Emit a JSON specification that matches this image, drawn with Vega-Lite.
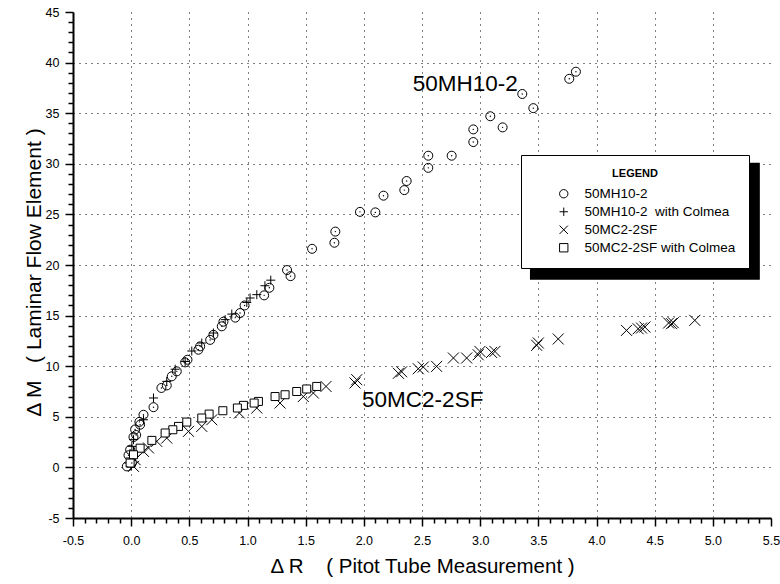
{
  "$schema": "https://vega.github.io/schema/vega-lite/v6.json",
  "width": 698,
  "height": 506,
  "autosize": {"type": "none"},
  "padding": {"left": 73, "top": 12, "right": 9, "bottom": 66},
  "background": "white",
  "config": {
    "view": {"stroke": null},
    "font": "Liberation Sans",
    "axis": {"domainColor": "black", "tickColor": "black", "labelColor": "black", "titleColor": "black", "titleFontWeight": "normal"},
    "legend": {
      "orient": "none", "legendX": 448, "legendY": 143,
      "titleFontWeight": "bold", "titleFontSize": 11, "titleAnchor": "middle", "titlePadding": 8, "titleColor": "black", "titleFont": "Liberation Sans",
      "labelFontSize": 13.5, "labelColor": "black", "labelFont": "Liberation Sans",
      "fillColor": "white", "strokeColor": "black", "strokeWidth": 1,
      "padding": 13, "symbolOffset": 23, "labelOffset": 14, "rowPadding": 3,
      "symbolSize": 70, "symbolStrokeColor": "black", "symbolStrokeWidth": 1, "symbolFillColor": "transparent", "symbolOpacity": 1
    }
  },
  "datasets": {
    "points": [
      {"series": "50MH10-2", "x": 3.823, "y": 39.1}, {"series": "50MH10-2", "x": 3.766, "y": 38.4}, {"series": "50MH10-2", "x": 3.362, "y": 36.9}, {"series": "50MH10-2", "x": 3.457, "y": 35.5}, {"series": "50MH10-2", "x": 3.087, "y": 34.7}, {"series": "50MH10-2", "x": 3.193, "y": 33.6}, {"series": "50MH10-2", "x": 2.941, "y": 33.4}, {"series": "50MH10-2", "x": 2.941, "y": 32.15}, {"series": "50MH10-2", "x": 2.755, "y": 30.8}, {"series": "50MH10-2", "x": 2.554, "y": 30.8}, {"series": "50MH10-2", "x": 2.554, "y": 29.6}, {"series": "50MH10-2", "x": 2.368, "y": 28.3}, {"series": "50MH10-2", "x": 2.348, "y": 27.4}, {"series": "50MH10-2", "x": 2.169, "y": 26.85}, {"series": "50MH10-2", "x": 2.099, "y": 25.2}, {"series": "50MH10-2", "x": 1.967, "y": 25.25}, {"series": "50MH10-2", "x": 1.755, "y": 23.3}, {"series": "50MH10-2", "x": 1.747, "y": 22.2}, {"series": "50MH10-2", "x": 1.555, "y": 21.6}, {"series": "50MH10-2", "x": 1.34, "y": 19.5}, {"series": "50MH10-2", "x": 1.37, "y": 18.9}, {"series": "50MH10-2", "x": 1.188, "y": 17.75}, {"series": "50MH10-2", "x": 1.143, "y": 17.0}, {"series": "50MH10-2", "x": 0.975, "y": 16.0}, {"series": "50MH10-2", "x": 0.936, "y": 15.25}, {"series": "50MH10-2", "x": 0.895, "y": 14.8}, {"series": "50MH10-2", "x": 0.793, "y": 14.4}, {"series": "50MH10-2", "x": 0.779, "y": 13.94}, {"series": "50MH10-2", "x": 0.707, "y": 13.1}, {"series": "50MH10-2", "x": 0.679, "y": 12.6}, {"series": "50MH10-2", "x": 0.593, "y": 11.96}, {"series": "50MH10-2", "x": 0.578, "y": 11.63}, {"series": "50MH10-2", "x": 0.484, "y": 10.64}, {"series": "50MH10-2", "x": 0.464, "y": 10.38}, {"series": "50MH10-2", "x": 0.392, "y": 9.49}, {"series": "50MH10-2", "x": 0.349, "y": 9.0}, {"series": "50MH10-2", "x": 0.306, "y": 8.1}, {"series": "50MH10-2", "x": 0.26, "y": 7.85}, {"series": "50MH10-2", "x": 0.192, "y": 5.95}, {"series": "50MH10-2", "x": 0.106, "y": 5.2}, {"series": "50MH10-2", "x": 0.071, "y": 4.5}, {"series": "50MH10-2", "x": 0.077, "y": 4.22}, {"series": "50MH10-2", "x": 0.034, "y": 3.75}, {"series": "50MH10-2", "x": 0.043, "y": 3.2}, {"series": "50MH10-2", "x": 0.02, "y": 3.0}, {"series": "50MH10-2", "x": -0.009, "y": 1.75}, {"series": "50MH10-2", "x": -0.023, "y": 1.2}, {"series": "50MH10-2", "x": 0.006, "y": 0.43}, {"series": "50MH10-2", "x": -0.037, "y": 0.1},
      {"series": "50MH10-2  with Colmea", "x": 1.2, "y": 18.5}, {"series": "50MH10-2  with Colmea", "x": 1.15, "y": 17.95}, {"series": "50MH10-2  with Colmea", "x": 1.08, "y": 17.07}, {"series": "50MH10-2  with Colmea", "x": 1.022, "y": 16.74}, {"series": "50MH10-2  with Colmea", "x": 0.994, "y": 16.3}, {"series": "50MH10-2  with Colmea", "x": 0.865, "y": 15.15}, {"series": "50MH10-2  with Colmea", "x": 0.808, "y": 14.6}, {"series": "50MH10-2  with Colmea", "x": 0.707, "y": 13.28}, {"series": "50MH10-2  with Colmea", "x": 0.607, "y": 12.29}, {"series": "50MH10-2  with Colmea", "x": 0.521, "y": 11.5}, {"series": "50MH10-2  with Colmea", "x": 0.464, "y": 10.47}, {"series": "50MH10-2  with Colmea", "x": 0.378, "y": 9.7}, {"series": "50MH10-2  with Colmea", "x": 0.306, "y": 8.5}, {"series": "50MH10-2  with Colmea", "x": 0.192, "y": 6.86}, {"series": "50MH10-2  with Colmea", "x": 0.106, "y": 4.71}, {"series": "50MH10-2  with Colmea", "x": 0.02, "y": 2.74}, {"series": "50MH10-2  with Colmea", "x": 0.006, "y": 2.08}, {"series": "50MH10-2  with Colmea", "x": 0.02, "y": 1.6}, {"series": "50MH10-2  with Colmea", "x": -0.009, "y": 0.93}, {"series": "50MH10-2  with Colmea", "x": -0.02, "y": 0.43}, {"series": "50MH10-2  with Colmea", "x": 0.0, "y": 0.1},
      {"series": "50MC2-2SF", "x": 4.845, "y": 14.53}, {"series": "50MC2-2SF", "x": 4.66, "y": 14.3}, {"series": "50MC2-2SF", "x": 4.645, "y": 14.2}, {"series": "50MC2-2SF", "x": 4.62, "y": 14.27}, {"series": "50MC2-2SF", "x": 4.416, "y": 13.87}, {"series": "50MC2-2SF", "x": 4.387, "y": 13.77}, {"series": "50MC2-2SF", "x": 4.358, "y": 13.7}, {"series": "50MC2-2SF", "x": 4.258, "y": 13.54}, {"series": "50MC2-2SF", "x": 3.671, "y": 12.69}, {"series": "50MC2-2SF", "x": 3.5, "y": 12.29}, {"series": "50MC2-2SF", "x": 3.486, "y": 12.06}, {"series": "50MC2-2SF", "x": 3.127, "y": 11.46}, {"series": "50MC2-2SF", "x": 3.098, "y": 11.36}, {"series": "50MC2-2SF", "x": 2.998, "y": 11.46}, {"series": "50MC2-2SF", "x": 2.983, "y": 11.13}, {"series": "50MC2-2SF", "x": 2.884, "y": 10.81}, {"series": "50MC2-2SF", "x": 2.77, "y": 10.81}, {"series": "50MC2-2SF", "x": 2.626, "y": 9.98}, {"series": "50MC2-2SF", "x": 2.511, "y": 9.92}, {"series": "50MC2-2SF", "x": 2.468, "y": 9.75}, {"series": "50MC2-2SF", "x": 2.325, "y": 9.45}, {"series": "50MC2-2SF", "x": 2.297, "y": 9.3}, {"series": "50MC2-2SF", "x": 1.939, "y": 8.67}, {"series": "50MC2-2SF", "x": 1.924, "y": 8.34}, {"series": "50MC2-2SF", "x": 1.675, "y": 8.0}, {"series": "50MC2-2SF", "x": 1.566, "y": 7.35}, {"series": "50MC2-2SF", "x": 1.48, "y": 7.0}, {"series": "50MC2-2SF", "x": 1.28, "y": 6.36}, {"series": "50MC2-2SF", "x": 1.08, "y": 5.87}, {"series": "50MC2-2SF", "x": 0.93, "y": 5.37}, {"series": "50MC2-2SF", "x": 0.693, "y": 4.71}, {"series": "50MC2-2SF", "x": 0.607, "y": 4.05}, {"series": "50MC2-2SF", "x": 0.493, "y": 3.56}, {"series": "50MC2-2SF", "x": 0.306, "y": 2.9}, {"series": "50MC2-2SF", "x": 0.22, "y": 2.57}, {"series": "50MC2-2SF", "x": 0.149, "y": 1.92}, {"series": "50MC2-2SF", "x": 0.106, "y": 1.58}, {"series": "50MC2-2SF", "x": 0.034, "y": 0.76}, {"series": "50MC2-2SF", "x": 0.02, "y": 0.1},
      {"series": "50MC2-2SF with Colmea", "x": 1.595, "y": 8.0}, {"series": "50MC2-2SF with Colmea", "x": 1.509, "y": 7.75}, {"series": "50MC2-2SF with Colmea", "x": 1.423, "y": 7.5}, {"series": "50MC2-2SF with Colmea", "x": 1.323, "y": 7.18}, {"series": "50MC2-2SF with Colmea", "x": 1.237, "y": 7.0}, {"series": "50MC2-2SF with Colmea", "x": 1.094, "y": 6.52}, {"series": "50MC2-2SF with Colmea", "x": 1.057, "y": 6.36}, {"series": "50MC2-2SF with Colmea", "x": 0.965, "y": 6.13}, {"series": "50MC2-2SF with Colmea", "x": 0.913, "y": 5.87}, {"series": "50MC2-2SF with Colmea", "x": 0.788, "y": 5.6}, {"series": "50MC2-2SF with Colmea", "x": 0.67, "y": 5.27}, {"series": "50MC2-2SF with Colmea", "x": 0.607, "y": 4.88}, {"series": "50MC2-2SF with Colmea", "x": 0.478, "y": 4.48}, {"series": "50MC2-2SF with Colmea", "x": 0.407, "y": 4.05}, {"series": "50MC2-2SF with Colmea", "x": 0.358, "y": 3.72}, {"series": "50MC2-2SF with Colmea", "x": 0.292, "y": 3.4}, {"series": "50MC2-2SF with Colmea", "x": 0.178, "y": 2.67}, {"series": "50MC2-2SF with Colmea", "x": 0.077, "y": 1.9}, {"series": "50MC2-2SF with Colmea", "x": 0.02, "y": 1.25}, {"series": "50MC2-2SF with Colmea", "x": -0.009, "y": 0.43}
    ],
    "labels": [
      {"label": "50MH10-2", "x": 2.42, "y": 37.15},
      {"label": "50MC2-2SF", "x": 1.985, "y": 6.0}
    ],
    "shadow": [
      {"x": 3.428, "x2": 5.404, "y": 30.1, "y2": 18.55}
    ]
  },
  "encoding": {
    "x": {
      "field": "x", "type": "quantitative",
      "scale": {"domain": [-0.5, 5.5], "nice": false, "zero": false},
      "axis": {
        "values": [-0.5,-0.4,-0.3,-0.2,-0.1,0,0.1,0.2,0.3,0.4,0.5,0.6,0.7,0.8,0.9,1,1.1,1.2,1.3,1.4,1.5,1.6,1.7,1.8,1.9,2,2.1,2.2,2.3,2.4,2.5,2.6,2.7,2.8,2.9,3,3.1,3.2,3.3,3.4,3.5,3.6,3.7,3.8,3.9,4,4.1,4.2,4.3,4.4,4.5,4.6,4.7,4.8,4.9,5,5.1,5.2,5.3,5.4,5.5],
        "labelExpr": "abs(datum.value*2 - round(datum.value*2)) < 0.001 ? replace(format(datum.value, '.1f'), '\u2212', '-') : ''",
        "labelOverlap": false,
        "labelFlush": false,
        "labelFont": "Liberation Sans",
        "labelFontSize": 12.5,
        "labelPadding": 8,
        "grid": true,
        "gridColor": "black",
        "gridDash": [1, 5],
        "gridWidth": 1,
        "gridOpacity": {"condition": {"test": "abs(datum.value*2 - round(datum.value*2)) < 0.001 && datum.value > -0.4 && datum.value < 5.4", "value": 1}, "value": 0},
        "tickSize": {"condition": {"test": "abs(datum.value*2 - round(datum.value*2)) < 0.001", "value": 8}, "value": 5},
        "tickWidth": 1.5,
        "domainWidth": 2,
        "title": "Δ R\u00a0\u00a0\u00a0\u00a0( Pitot Tube Measurement )",
        "titleFont": "Liberation Sans",
        "titleFontSize": 20.5,
        "titlePadding": 10
      }
    },
    "y": {
      "field": "y", "type": "quantitative",
      "scale": {"domain": [-5, 45], "nice": false, "zero": false},
      "axis": {
        "values": [-5,-4,-3,-2,-1,0,1,2,3,4,5,6,7,8,9,10,11,12,13,14,15,16,17,18,19,20,21,22,23,24,25,26,27,28,29,30,31,32,33,34,35,36,37,38,39,40,41,42,43,44,45],
        "labelExpr": "datum.value % 5 === 0 ? '' + datum.value : ''",
        "labelOverlap": false,
        "labelFlush": false,
        "labelFont": "Liberation Sans",
        "labelFontSize": 12.5,
        "labelPadding": 6,
        "grid": true,
        "gridColor": "black",
        "gridDash": [1, 5],
        "gridWidth": 1,
        "gridOpacity": {"condition": {"test": "datum.value % 5 === 0 && datum.value > -5 && datum.value < 45", "value": 1}, "value": 0},
        "tickSize": {"condition": {"test": "datum.value % 5 === 0", "value": 8}, "value": 5},
        "tickWidth": 1.5,
        "domainWidth": 2,
        "title": "Δ M\u00a0\u00a0\u00a0( Laminar Flow Element )",
        "titleFont": "Liberation Sans",
        "titleFontSize": 21,
        "titlePadding": 1,
        "titleY": 260
      }
    }
  },
  "layer": [
    {
      "data": {"name": "shadow"},
      "mark": {"type": "rect", "color": "black"},
      "encoding": {"x2": {"field": "x2"}, "y2": {"field": "y2"}}
    },
    {
      "data": {"name": "points"},
      "transform": [{"filter": "datum.series === '50MC2-2SF'"}],
      "mark": {"type": "point", "filled": false, "color": "black", "strokeWidth": 1, "opacity": 1, "size": 121},
      "encoding": {
        "shape": {
          "field": "series", "type": "nominal",
          "scale": {"domain": ["50MH10-2", "50MH10-2  with Colmea", "50MC2-2SF", "50MC2-2SF with Colmea"], "range": ["circle", "M-1,0H1M0,-1V1", "M-1,-1L1,1M-1,1L1,-1", "square"]},
          "legend": {"title": "LEGEND", "labelExpr": "replace(datum.label, '  ', '\u00a0\u00a0')"}
        }
      }
    },
    {
      "data": {"name": "points"},
      "transform": [{"filter": "datum.series === '50MH10-2' || datum.series === '50MH10-2  with Colmea'"}],
      "mark": {"type": "point", "filled": false, "color": "black", "strokeWidth": 1, "opacity": 1, "size": 81},
      "encoding": {
        "shape": {
          "field": "series", "type": "nominal",
          "legend": {"title": "LEGEND", "labelExpr": "replace(datum.label, '  ', '\u00a0\u00a0')"}
        }
      }
    },
    {
      "data": {"name": "points"},
      "transform": [{"filter": "datum.series === '50MC2-2SF with Colmea'"}],
      "mark": {"type": "point", "shape": "square", "filled": true, "fill": "white", "stroke": "black", "strokeWidth": 1, "opacity": 1, "size": 64}
    },
    {
      "data": {"name": "points"},
      "transform": [{"filter": "datum.series === '50MH10-2'"}],
      "mark": {"type": "point", "shape": "circle", "filled": true, "color": "black", "opacity": 1, "size": 2}
    },
    {
      "data": {"name": "labels"},
      "mark": {"type": "text", "align": "left", "baseline": "alphabetic", "fontSize": 22.5, "font": "Liberation Sans", "color": "black"},
      "encoding": {"text": {"field": "label"}}
    }
  ]
}
